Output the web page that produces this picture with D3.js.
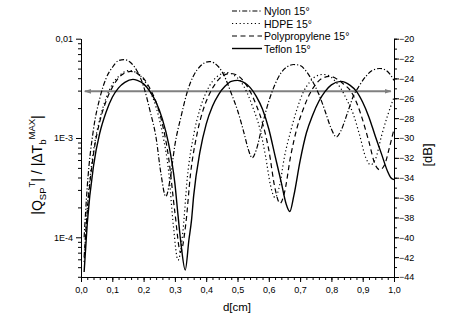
<!DOCTYPE html>
<html>
<head>
<meta charset="utf-8">
<script src="https://cdn.jsdelivr.net/npm/d3@7"></script>
<style>
  body { margin: 0; background: #fff; }
  svg text { font-family: "Liberation Sans", Arial, sans-serif; fill: #000; }
</style>
</head>
<body>
<div id="chart"></div>
<script>
// values, [d in cm, level in dB]
const nylon = [[0.01,-40.0],[0.02,-34.9],[0.04,-29.1],[0.06,-26.0],[0.08,-24.0],[0.10,-22.9],[0.12,-22.2],[0.137,-22.1],[0.16,-22.45],[0.18,-23.3],[0.20,-24.8],[0.22,-27.2],[0.24,-30.0],[0.255,-33.5],[0.271,-35.9],[0.285,-34.1],[0.30,-30.7],[0.32,-27.8],[0.34,-25.3],[0.36,-23.7],[0.38,-22.8],[0.41,-22.3],[0.44,-22.85],[0.46,-23.9],[0.48,-25.5],[0.50,-27.2],[0.52,-29.4],[0.535,-31.2],[0.547,-32.0],[0.56,-31.2],[0.58,-28.6],[0.60,-26.3],[0.62,-24.6],[0.64,-23.4],[0.66,-22.8],[0.68,-22.6],[0.70,-22.7],[0.72,-23.3],[0.74,-24.3],[0.76,-25.6],[0.78,-27.3],[0.80,-29.1],[0.816,-29.9],[0.83,-29.3],[0.85,-27.6],[0.87,-25.8],[0.89,-24.7],[0.91,-23.8],[0.93,-23.2],[0.955,-23.0],[0.975,-23.2],[0.99,-23.7],[1.0,-24.2]];
const hdpe = [[0.01,-42.5],[0.02,-37.1],[0.04,-31.3],[0.06,-28.1],[0.08,-26.0],[0.10,-24.6],[0.12,-23.8],[0.155,-23.2],[0.18,-23.5],[0.20,-24.1],[0.22,-25.25],[0.24,-26.9],[0.26,-29.5],[0.28,-33.4],[0.295,-38.8],[0.31,-42.3],[0.325,-39.6],[0.34,-33.9],[0.36,-29.7],[0.38,-27.1],[0.40,-25.4],[0.42,-24.3],[0.44,-23.7],[0.465,-23.4],[0.49,-23.7],[0.51,-24.3],[0.53,-25.4],[0.55,-27.0],[0.57,-28.9],[0.59,-31.9],[0.605,-34.7],[0.62,-36.0],[0.635,-34.7],[0.65,-31.9],[0.67,-29.3],[0.69,-27.1],[0.71,-25.4],[0.73,-24.4],[0.75,-23.8],[0.772,-23.6],[0.79,-23.7],[0.81,-24.2],[0.83,-25.0],[0.85,-26.2],[0.87,-27.6],[0.89,-29.7],[0.91,-32.0],[0.925,-32.7],[0.94,-32.2],[0.96,-29.8],[0.98,-27.7],[1.0,-25.9]];
const polyprop = [[0.01,-42.0],[0.02,-37.4],[0.04,-31.6],[0.06,-28.35],[0.08,-26.3],[0.10,-24.9],[0.12,-23.95],[0.14,-23.45],[0.159,-23.3],[0.18,-23.5],[0.20,-24.0],[0.22,-25.0],[0.24,-26.4],[0.26,-28.6],[0.28,-32.0],[0.30,-37.5],[0.318,-41.5],[0.335,-38.6],[0.35,-33.6],[0.37,-29.7],[0.39,-27.2],[0.41,-25.6],[0.43,-24.5],[0.45,-23.8],[0.477,-23.5],[0.50,-23.7],[0.52,-24.3],[0.54,-25.3],[0.56,-26.7],[0.58,-28.5],[0.60,-31.2],[0.62,-35.1],[0.636,-36.6],[0.65,-35.5],[0.67,-31.8],[0.69,-29.0],[0.71,-27.1],[0.73,-25.6],[0.75,-24.6],[0.77,-24.0],[0.795,-23.8],[0.82,-24.1],[0.84,-24.6],[0.86,-25.2],[0.88,-26.4],[0.90,-28.2],[0.92,-30.4],[0.94,-32.7],[0.955,-33.2],[0.97,-32.7],[0.985,-31.0],[1.0,-29.1]];
const teflon = [[0.01,-43.5],[0.02,-38.6],[0.04,-32.8],[0.06,-29.5],[0.08,-27.4],[0.10,-25.9],[0.12,-24.95],[0.14,-24.4],[0.166,-24.1],[0.18,-24.2],[0.20,-24.55],[0.22,-25.3],[0.24,-26.4],[0.26,-28.1],[0.28,-30.6],[0.30,-34.6],[0.31,-37.8],[0.32,-40.8],[0.333,-43.3],[0.345,-40.2],[0.353,-38.3],[0.36,-35.8],[0.38,-31.4],[0.40,-28.6],[0.42,-26.8],[0.44,-25.6],[0.46,-24.8],[0.48,-24.3],[0.50,-24.2],[0.52,-24.4],[0.54,-24.9],[0.56,-25.8],[0.58,-27.1],[0.60,-29.1],[0.62,-31.8],[0.64,-34.5],[0.655,-36.6],[0.667,-37.4],[0.68,-35.8],[0.70,-32.3],[0.72,-29.5],[0.74,-27.7],[0.76,-26.3],[0.78,-25.3],[0.80,-24.65],[0.83,-24.3],[0.86,-24.7],[0.88,-25.3],[0.90,-26.4],[0.92,-27.9],[0.94,-29.8],[0.96,-31.6],[0.98,-33.4],[0.99,-34.0],[1.0,-34.2]];

const seriesNames = ['Nylon 15°', 'HDPE 15°', 'Polypropylene 15°', 'Teflon 15°'];
const seriesDash = ['5,2,1.2,2', '1.2,2.6', '5,3.5', null];
const thresholdDb = -25.3;
const thresholdSpan = [0.012, 0.99];
const xTicks = [0, 0.1, 0.2, 0.3, 0.4, 0.5, 0.6, 0.7, 0.8, 0.9, 1.0];
const leftTicks = [0.01, 1e-3, 1e-4];
const leftTickLabels = ['0,01', '1E-3', '1E-4'];
const dbTicks = [-20, -22, -24, -26, -28, -30, -32, -34, -36, -38, -40, -42, -44];

const width = 457, height = 332;
const svg = d3.select('#chart').append('svg')
  .attr('width', width).attr('height', height);
svg.append('rect').attr('width', width).attr('height', height).attr('fill', '#fff');

const x = d3.scaleLinear().domain([0, 1]).range([81, 394]);
const yDb = d3.scaleLinear().domain([-44, -20]).range([277, 38.7]);
const yQ = d3.scaleLog().domain([Math.pow(10, -4.4), 0.01]).range([277, 38.7]);

// bottom axis
const xMinor = d3.range(0, 1.0001, 0.02);
svg.append('g').attr('transform', 'translate(0,277)')
  .call(d3.axisBottom(x).tickValues(xMinor).tickSize(3).tickSizeOuter(0).tickFormat(''));
svg.append('g').attr('transform', 'translate(0,277)')
  .call(d3.axisBottom(x).tickValues(xTicks).tickSize(5).tickSizeOuter(0)
    .tickFormat(d => d3.format('.1f')(d).replace('.', ',')))
  .call(g => g.selectAll('text').attr('font-size', 9).attr('dy', '0.9em'));

// left axis (log)
const qMinor = [];
[1e-5, 1e-4, 1e-3].forEach(dec => {
  for (let k = 2; k <= 9; k++) if (k * dec >= Math.pow(10, -4.4)) qMinor.push(k * dec);
});
svg.append('g').attr('transform', 'translate(81,0)')
  .call(d3.axisLeft(yQ).tickValues(qMinor).tickSize(3).tickSizeOuter(0).tickFormat(''));
svg.append('g').attr('transform', 'translate(81,0)')
  .call(d3.axisLeft(yQ).tickValues(leftTicks).tickSize(5).tickSizeOuter(0)
    .tickFormat((d, i) => leftTickLabels[i]))
  .call(g => g.selectAll('text').attr('font-size', 9));

// right axis (dB)
svg.append('g').attr('transform', 'translate(394,0)')
  .call(d3.axisRight(yDb).tickValues(d3.range(-44, -19.9, 1)).tickSize(3).tickSizeOuter(0).tickFormat(''));
svg.append('g').attr('transform', 'translate(394,0)')
  .call(d3.axisRight(yDb).tickValues(dbTicks).tickSize(5).tickSizeOuter(0))
  .call(g => g.selectAll('text').attr('font-size', 9).attr('x', 5));

svg.selectAll('.domain').attr('stroke', '#000');

// reference level with arrows
const defs = svg.append('defs');
defs.append('marker').attr('id', 'arr')
  .attr('viewBox', '0 0 10 10').attr('refX', 9).attr('refY', 5)
  .attr('markerWidth', 3.5).attr('markerHeight', 3.5)
  .attr('orient', 'auto-start-reverse')
  .append('path').attr('d', 'M0,1.5 L10,5 L0,8.5 z').attr('fill', '#808080');
svg.append('line')
  .attr('x1', x(thresholdSpan[0])).attr('x2', x(thresholdSpan[1]))
  .attr('y1', yDb(thresholdDb)).attr('y2', yDb(thresholdDb))
  .attr('stroke', '#808080').attr('stroke-width', 2)
  .attr('marker-start', 'url(#arr)').attr('marker-end', 'url(#arr)');

// curves
const line = d3.line().x(d => x(d[0])).y(d => yDb(d[1])).curve(d3.curveMonotoneX);
[nylon, hdpe, polyprop, teflon].forEach((s, i) => {
  svg.append('path').datum(s)
    .attr('d', line)
    .attr('fill', 'none')
    .attr('stroke', '#000')
    .attr('stroke-width', i === 3 ? 1.4 : 1.2)
    .attr('stroke-dasharray', seriesDash[i]);
});

// legend
const legend = svg.append('g');
seriesNames.forEach((name, i) => {
  const ly = 11 + i * 12.5;
  legend.append('line').attr('x1', 232).attr('x2', 262).attr('y1', ly).attr('y2', ly)
    .attr('stroke', '#000').attr('stroke-width', i === 3 ? 1.4 : 1.2)
    .attr('stroke-dasharray', seriesDash[i]);
  legend.append('text').attr('x', 264).attr('y', ly + 4)
    .attr('font-size', 10.5).text(name);
});

// axis titles
svg.append('text').attr('x', 237).attr('y', 311)
  .attr('text-anchor', 'middle').attr('font-size', 11.5).text('d[cm]');

const yt = svg.append('text')
  .attr('transform', 'translate(42,165) rotate(-90)')
  .attr('text-anchor', 'middle').attr('font-size', 14);
yt.append('tspan').text('|Q');
yt.append('tspan').attr('font-size', 9.5).attr('dy', 4).text('SP');
yt.append('tspan').attr('font-size', 9.5).attr('dy', -11).text('T');
yt.append('tspan').attr('dy', 7).text('| / |ΔT');
yt.append('tspan').attr('font-size', 9.5).attr('dy', 4).text('b');
yt.append('tspan').attr('font-size', 9.5).attr('dy', -11).text('MAX');
yt.append('tspan').attr('dy', 7).text('|');

svg.append('text')
  .attr('transform', 'translate(432,155) rotate(-90)')
  .attr('text-anchor', 'middle').attr('font-size', 13).text('[dB]');
</script>
</body>
</html>
